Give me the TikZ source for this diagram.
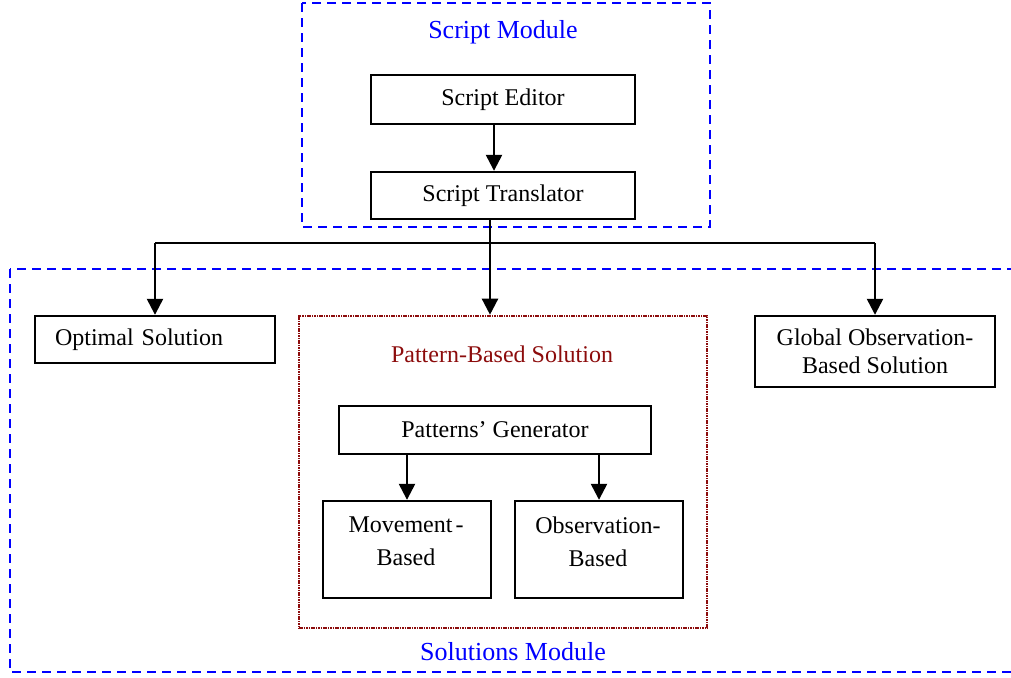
\documentclass[tikz,border=0pt]{standalone}
\usepackage{fontspec}
\setmainfont{Liberation Serif}
\usepackage{tikz}
\usetikzlibrary{arrows.meta}
\definecolor{patred}{RGB}{140,12,12}
\tikzset{
    block/.style={rectangle,draw,line width=1.2pt,inner sep=2pt,font=\fontsize{12}{14}\selectfont},
    caption/.style={rectangle,draw=none,inner sep=0pt,font=\fontsize{13}{15}\selectfont},
    module/.style={draw=blue,line width=1.2pt,dash pattern=on 4.5pt off 3pt},
    patbox/.style={rectangle,draw=patred,line width=1.3pt,dash pattern=on 0.8pt off 0.4pt},
    directed/.style={line width=1.2pt,arrows={-Triangle[length=8pt,width=8pt]}},
    }
\begin{document}
\begin{tikzpicture}[x=0.5pt,y=-0.5pt]
    \useasboundingbox (0,0) rectangle (1011,677);
    % modules
    \draw[module] (302,3) rectangle (710,227);
    \begin{scope}
        \clip (0,0) rectangle (1011,677);
        \draw[module] (10,269) rectangle (1040,672);
    \end{scope}
    \node[caption,text=blue] (scriptmod) at (503,32) {Script Module};
    \node[caption,text=blue] (solmod) at (513,652) {Solutions Module};

    \node[block,minimum width=132pt,minimum height=24.5pt] (ed) at (503,99.5) {Script Editor};
    \node[block,minimum width=132pt,minimum height=23.5pt] (tr) at (503,195.5) {Script Translator};

    \node[block,minimum height=23.5pt,text width=100pt,inner xsep=10pt,align=left] (opt) at (155,339.5) {Optimal Solution};
    \node[block,minimum width=120pt,minimum height=35.5pt,align=center,font=\fontsize{12}{14}\selectfont] (glob) at (875,351.5) {Global Observation-\\Based Solution};

    \node[patbox,minimum width=204pt,minimum height=156pt] (pat) at (503,472) {};
    \node[caption,text=patred,font=\fontsize{12}{14}\selectfont] (patlbl) at (502,354) {Pattern-Based Solution};
    \node[block,minimum width=156pt,minimum height=24pt] (gen) at (495,430) {Patterns' Generator};
    \node[block,minimum width=84pt,minimum height=48.5pt] (move) at (407,549.5) {};
    \node[block,minimum width=84pt,minimum height=48.5pt] (obs) at (599,549.5) {};
    \node[caption,align=center,font=\fontsize{12}{16.5}\selectfont] (movetxt) at (406,541.5) {Movement\kern1.5pt-\\Based};
    \node[caption,align=center,font=\fontsize{12}{16.5}\selectfont] (obstxt) at (598,541.5) {Observation-\\Based};

    \coordinate (bus) at (490,243);

    \draw[directed] ([xshift=-4.5pt]ed.south) -- ([xshift=-4.5pt]tr.north);
    \draw[line width=1.2pt] (tr.south -| bus) -- (bus);
    \draw[line width=1.2pt] (bus) -- (bus -| opt.north);
    \draw[line width=1.2pt] (bus) -- (bus -| glob.north);
    \draw[directed] (bus -| opt.north) -- (opt.north);
    \draw[directed] (bus) -- (pat.north -| bus);
    \draw[directed] (bus -| glob.north) -- (glob.north);
    \draw[directed] (gen.south -| move.north) -- (move.north);
    \draw[directed] (gen.south -| obs.north) -- (obs.north);
\end{tikzpicture}
\end{document}
